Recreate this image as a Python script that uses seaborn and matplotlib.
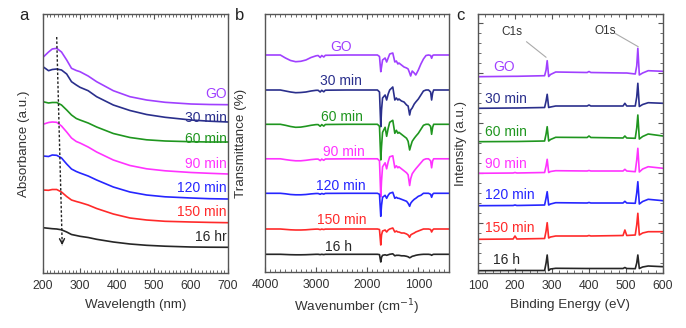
import numpy as np
import pandas as pd
import matplotlib
matplotlib.use("Agg")
import matplotlib.pyplot as plt
from matplotlib.ticker import MultipleLocator, NullLocator
import seaborn as sns

sns.set_theme(style="white")
plt.rcParams['font.family'] = ['Liberation Sans', 'DejaVu Sans']

# ---------------- data ----------------
series_a = ["GO", "30 min", "60 min", "90 min", "120 min", "150 min", "16 hr"]
series_bc = ["GO", "30 min", "60 min", "90 min", "120 min", "150 min", "16 h"]
colors = ["#a040ff", "#2a2f8c", "#1f961f", "#ff33ff", "#2626ff", "#ff2a2a", "#262626"]

# (a) UV-vis absorbance (a.u., stacked as plotted)
wavelength = [200, 215, 225, 237, 250, 264, 277, 290, 300, 322, 345, 390, 435, 480, 530, 600, 650, 700]
abs_go = [2.157, 2.21, 2.24, 2.247, 2.21, 2.13, 2.047, 2.025, 2.013, 1.97, 1.913, 1.823, 1.763, 1.73, 1.707, 1.69, 1.685, 1.683]
abs_30 = [2.063, 2.023, 2.035, 2.04, 2.03, 1.99, 1.913, 1.88, 1.857, 1.823, 1.763, 1.68, 1.625, 1.585, 1.557, 1.53, 1.518, 1.51]
abs_60 = [1.713, 1.70, 1.705, 1.705, 1.68, 1.63, 1.58, 1.545, 1.53, 1.50, 1.46, 1.395, 1.355, 1.332, 1.32, 1.313, 1.31, 1.31]
abs_90 = [1.487, 1.505, 1.51, 1.507, 1.47, 1.41, 1.35, 1.315, 1.30, 1.26, 1.21, 1.13, 1.075, 1.042, 1.022, 1.005, 0.997, 0.99]
abs_120 = [1.17, 1.165, 1.18, 1.177, 1.15, 1.09, 1.04, 1.015, 1.0, 0.97, 0.93, 0.86, 0.81, 0.78, 0.762, 0.75, 0.743, 0.74]
abs_150 = [0.83, 0.827, 0.835, 0.835, 0.81, 0.765, 0.73, 0.715, 0.705, 0.68, 0.645, 0.59, 0.55, 0.53, 0.517, 0.51, 0.506, 0.503]
abs_16h = [0.453, 0.447, 0.443, 0.44, 0.432, 0.41, 0.385, 0.375, 0.367, 0.355, 0.337, 0.31, 0.29, 0.277, 0.268, 0.26, 0.258, 0.257]
abs_label_y = [1.79, 1.55, 1.34, 1.09, 0.85, 0.605, 0.36]

# (b) FTIR: baseline offsets and transmittance drops
wavenumber = [4000, 3700, 3600, 3500, 3400, 3300, 3200, 3100, 3000, 2960,
              2920, 2890, 2850, 2820, 2400, 1800, 1760, 1735, 1720, 1700,
              1650, 1620, 1590, 1560, 1500, 1460, 1430, 1400, 1380, 1330,
              1280, 1230, 1200, 1170, 1150, 1120, 1080, 1050, 1000, 950,
              900, 850, 800, 760, 740, 720, 700, 650, 550, 400]
ir_offset = [217, 182, 147.7, 113.2, 78.7, 43, 17.7]
drop_go = [0, 0, 3, 5.5, 6.7, 6.3, 5, 2.5, 0.8, 0.5,
           2.5, 0.5, 2, 0.3, 0, 0, 1.5, 16.7, 12, 5,
           3, 7, 3, -1, -2, 7, 6, 9, 8, 10,
           12, 13, 14, 18, 21, 16, 18, 20, 15, 9,
           4, 0.5, 0, 0.5, 3.3, 0.5, 0, 0, 0, 0]
drop_30 = [0, 0, 1, 2, 2.7, 2.5, 2, 1, 0.3, 0.3,
           2, 0.3, 1.8, 0.2, 0, 0, 2, 36.7, 20, 8,
           5, 10, 4, 0, -3, 10, 8, 10, 9, 11,
           12, 15, 16, 25, 20, 18, 14, 12, 9, 5,
           1, 0, 0, 2, 10, 3, 0, 0, 0, 0]
drop_60 = [0, 0, 1, 2.2, 3, 2.8, 2, 1, 0.3, 0.3,
           2, 0.3, 1.8, 0.2, 0, 0, 2, 35.7, 22, 8,
           3, 12, 4, -2, -4, 9, 6, 9, 8, 10,
           12, 14, 17, 25.7, 22, 17, 14, 12, 9, 5,
           1, 0, 0, 2, 10, 3, 0, 0, 0, 0]
drop_90 = [0, 0, 0.8, 1.5, 2, 2, 1.5, 0.8, 0.3, 0.3,
           1.8, 0.3, 1.5, 0.2, 0, 0, 2, 38, 22, 8,
           4, 10, 3, -2, -3, 9, 7, 9, 8, 10,
           12, 14, 16, 26.7, 20, 15, 12, 10, 7, 4,
           1, 0, 0, 2, 9, 2, 0, 0, 0, 0]
drop_120 = [0, 0, 0.5, 1.2, 1.5, 1.5, 1.2, 0.6, 0.2, 0.2,
            1, 0.2, 0.8, 0.1, 0, 0, 1, 23, 12, 4,
            2, 5, 2, 0, -1, 5, 4, 5, 5, 6,
            7, 8, 10, 13, 10, 8, 6, 5, 3, 2,
            0, 0, 0, 1, 4, 1, 0, 0, 0, 0]
drop_150 = [0, 0, 0.4, 0.8, 1, 1, 0.8, 0.4, 0.1, 0.1,
            0.6, 0.1, 0.5, 0.1, 0, 0, 0.5, 16, 6, 2,
            1, 3, 1, 0, -1, 3, 2, 3, 3, 4,
            4, 5, 6, 8.3, 6, 5, 4, 3, 2, 1,
            0, 0, 0, 0.5, 3, 1, 0, 0, 0, 0]
drop_16h = [0, 0, 0.2, 0.4, 0.5, 0.5, 0.4, 0.2, 0, 0,
            0.3, 0, 0.3, 0, 0, 0, 0.3, 7.7, 3, 1,
            0.5, 1, 0.5, 0, -0.5, 1.5, 1, 1, 1, 1.5,
            1.5, 2, 2.5, 3.5, 3, 2, 1.5, 1, 0.5, 0.2,
            0, 0, 0, 0.3, 1, 0.3, 0, 0, 0, 0]
ir_label_x = [2520, 2520, 2490, 2465, 2520, 2490, 2562]
ir_label_y = [225.3, 191, 155.3, 120.3, 86.3, 52, 25.3]

# (c) XPS survey intensity (a.u., stacked as plotted)
binding = [100, 195, 200, 205, 280, 284, 287, 291, 296, 310, 395, 400, 405,
           492, 497, 502, 525, 529, 532, 536, 545, 560, 600]
xps_go = [196.3, 196.7, 196.7, 196.7, 197.3, 203, 212.3, 196.5, 198.5, 201, 200.5, 201.5, 200.5,
          200, 200, 200, 199, 207, 224.7, 198, 200, 202.3, 201.7]
xps_30 = [164.7, 165, 165, 165, 165.5, 172, 178.7, 165.5, 166, 167, 167, 168, 167,
          167, 169.7, 167, 167, 176, 189.7, 166.5, 168.5, 170.3, 169.7]
xps_60 = [131.3, 131.5, 131.5, 131.5, 132, 139, 146.3, 132, 133.5, 135.7, 135.5, 137, 135.5,
          135, 137, 135, 134.7, 145, 158, 134, 136.5, 139, 137]
xps_90 = [99.7, 100, 100.5, 100, 100.5, 107, 113.7, 100.5, 101.5, 102.3, 102, 102.5, 102,
          102, 103.7, 102, 101.3, 113, 124.7, 101, 104, 106.3, 104.7]
xps_120 = [67.3, 67.5, 68, 67.5, 68, 75, 81.3, 68, 69, 70.3, 70, 70.5, 70,
           70, 71.7, 70, 69.7, 80, 91.3, 69, 71.5, 73.7, 72.3]
xps_150 = [33.7, 34, 37, 34, 34.5, 42, 50.3, 35, 36, 37, 37, 37.5, 37,
           37.5, 43, 37.5, 38, 48, 59.7, 38, 40, 41.3, 41.3]
xps_16h = [2.3, 2.5, 2.5, 2.5, 2.5, 10, 18, 2.5, 4, 4.7, 4.5, 4.5, 4.5,
           4.5, 5.5, 4.5, 4.3, 10, 18, 4.5, 6, 7, 6.3]
xps_label_x = [140, 119, 119, 119, 119, 119, 140]
xps_label_y = [206.3, 174, 141.3, 108.7, 78, 44.7, 13]

# ---------------- tables ----------------
abs_all = [abs_go, abs_30, abs_60, abs_90, abs_120, abs_150, abs_16h]
df_a = pd.concat([pd.DataFrame({"x": wavelength, "y": v, "s": s}) for s, v in zip(series_a, abs_all)])
drops = [drop_go, drop_30, drop_60, drop_90, drop_120, drop_150, drop_16h]
df_b = pd.concat([pd.DataFrame({"x": wavenumber, "y": np.array(o) - np.array(d), "s": s})
                  for s, o, d in zip(series_bc, ir_offset, drops)])
xps_all = [xps_go, xps_30, xps_60, xps_90, xps_120, xps_150, xps_16h]
df_c = pd.concat([pd.DataFrame({"x": binding, "y": v, "s": s}) for s, v in zip(series_bc, xps_all)])

# ---------------- figure ----------------
W, H = 686, 328
fig = plt.figure(figsize=(W / 100, H / 100), dpi=100)
ax_a = fig.add_axes([43 / W, 1 - 273 / H, 185 / W, 259 / H])
ax_b = fig.add_axes([265 / W, 1 - 272 / H, 184 / W, 258 / H])
ax_c = fig.add_axes([478 / W, 1 - 273 / H, 185 / W, 259 / H])

txtc = "#333333"
spc = "#555555"
lw = 1.2

sns.lineplot(data=df_a, x="x", y="y", hue="s", hue_order=series_a, palette=colors,
             estimator=None, legend=False, lw=lw, ax=ax_a)
sns.lineplot(data=df_b, x="x", y="y", hue="s", hue_order=series_bc, palette=colors,
             estimator=None, legend=False, lw=lw, ax=ax_b)
sns.lineplot(data=df_c, x="x", y="y", hue="s", hue_order=series_bc, palette=colors,
             estimator=None, legend=False, lw=lw, ax=ax_c)

ax_a.set_xlim(200, 700)
ax_a.set_ylim(0, 2.59)
ax_b.set_xlim(4000, 400)
ax_b.set_ylim(0, 258)
ax_c.set_xlim(100, 600)
ax_c.set_ylim(0, 259)

ax_a.xaxis.set_major_locator(MultipleLocator(100))
ax_a.xaxis.set_minor_locator(MultipleLocator(10))
ax_b.xaxis.set_major_locator(MultipleLocator(1000))
ax_b.xaxis.set_minor_locator(MultipleLocator(100))
ax_c.xaxis.set_major_locator(MultipleLocator(100))
ax_c.xaxis.set_minor_locator(MultipleLocator(20))
ax_c.yaxis.set_major_locator(MultipleLocator(50))
ax_c.yaxis.set_minor_locator(MultipleLocator(10))
for ax in (ax_a, ax_b):
    ax.yaxis.set_major_locator(NullLocator())
    ax.yaxis.set_minor_locator(NullLocator())

for ax in (ax_a, ax_b, ax_c):
    for sp in ax.spines.values():
        sp.set_color(spc)
        sp.set_linewidth(1.0)
        sp.set_visible(True)
    ax.tick_params(axis="both", which="both", direction="in", top=True, bottom=True,
                   left=True, right=True, color=spc, labelcolor=txtc, labelsize=8.8, pad=5)
    ax.tick_params(which="major", length=3.5, width=0.8)
    ax.tick_params(which="minor", length=2, width=0.6)
    ax.tick_params(axis="y", labelleft=False)
    ax.grid(False)

lab_fs = 9.6
ax_a.set_xlabel("Wavelength (nm)", fontsize=lab_fs, color=txtc)
ax_b.set_xlabel("Wavenumber (cm$^{-1}$)", fontsize=lab_fs, color=txtc)
ax_c.set_xlabel("Binding Energy (eV)", fontsize=lab_fs, color=txtc)
ax_a.set_ylabel("Absorbance (a.u.)", fontsize=lab_fs, color=txtc)
ax_b.set_ylabel("Transmittance (%)", fontsize=lab_fs, color=txtc)
ax_c.set_ylabel("Intensity (a.u.)", fontsize=lab_fs, color=txtc)
ax_a.xaxis.set_label_coords(0.5, -0.10)
ax_b.xaxis.set_label_coords(0.5, -0.10)
ax_c.xaxis.set_label_coords(0.5, -0.10)
ax_a.yaxis.set_label_coords(-0.07, 0.5)
ax_b.yaxis.set_label_coords(-0.10, 0.5)
ax_c.yaxis.set_label_coords(-0.06, 0.5)

# series labels
ser_fs = 10
for s, c, y in zip(series_a, colors, abs_label_y):
    ax_a.text(697, y, s, color=c, fontsize=ser_fs, ha="right", va="center")
for s, c, x, y in zip(series_bc, colors, ir_label_x, ir_label_y):
    ax_b.text(x, y, s, color=c, fontsize=ser_fs, ha="center", va="center")
for s, c, x, y in zip(series_bc, colors, xps_label_x, xps_label_y):
    ax_c.text(x, y, s, color=c, fontsize=ser_fs, ha="left", va="center")

# trend arrow in (a)
ax_a.plot([237, 252], [2.36, 0.27], color="#222222", lw=1.0, ls=(0, (1.8, 1.4)))
ax_a.annotate("", xy=(252, 0.25), xytext=(251.3, 0.35),
              arrowprops=dict(arrowstyle="->", color="#222222", lw=1.0,
                              mutation_scale=9))

# peak annotations in (c)
ax_c.text(191, 241.3, "C1s", fontsize=8.5, color=txtc, ha="center", va="center")
ax_c.plot([231, 284], [231.3, 215.7], color="#aaaaaa", lw=0.8)
ax_c.text(443, 242.3, "O1s", fontsize=8.5, color=txtc, ha="center", va="center")
ax_c.plot([470, 533], [239.7, 226.3], color="#aaaaaa", lw=0.8)

# panel letters
for letter, x in (("a", 24), ("b", 240), ("c", 460)):
    fig.text(x / W, 1 - 15 / H, letter, fontsize=12, ha="center", va="center", color="#222222")

fig.savefig("out.png", dpi=100)
